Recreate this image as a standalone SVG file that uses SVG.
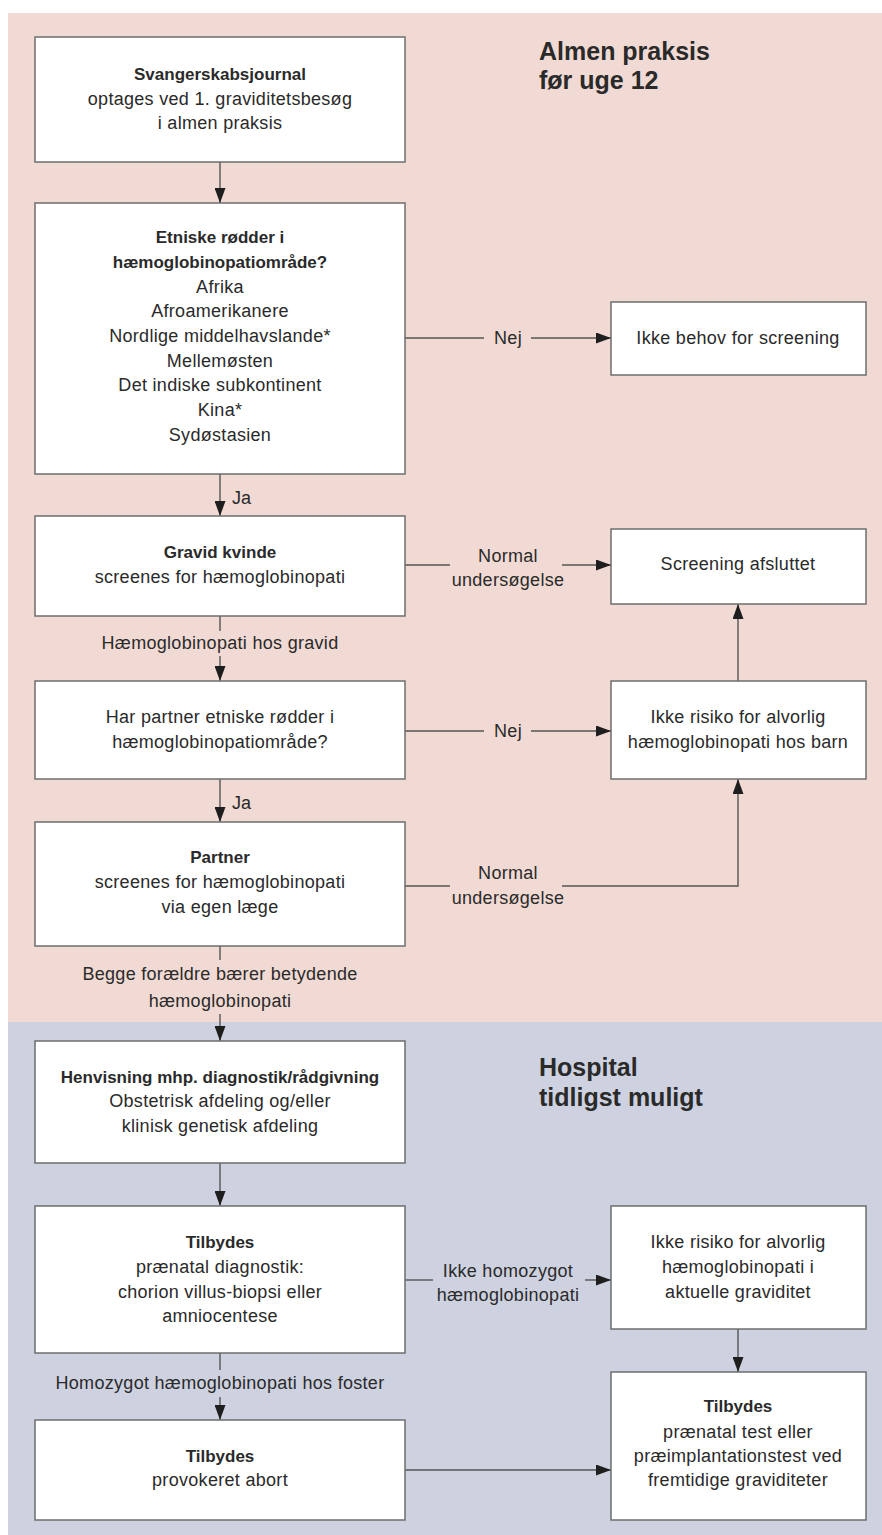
<svg xmlns="http://www.w3.org/2000/svg" width="882" height="1535" viewBox="0 0 882 1535">
<defs>
<marker id="ah" markerWidth="15" markerHeight="11" refX="15" refY="5.5" orient="auto" markerUnits="userSpaceOnUse">
<path d="M0,0 L15,5.5 L0,11 Z" fill="#1e1e1e"/>
</marker>
<style>
.box{fill:#ffffff;stroke:#6e6e6e;stroke-width:1.5}
.ln{fill:none;stroke:#555555;stroke-width:1.4}
.ar{fill:none;stroke:#555555;stroke-width:1.4;marker-end:url(#ah)}
text{font-family:"Liberation Sans",Arial,Helvetica,sans-serif;fill:#2a2a2a}
.t{font-size:18px;text-anchor:middle;letter-spacing:0.3px}
.b{font-size:17px;font-weight:bold;text-anchor:middle}
.lb{font-size:18px;text-anchor:middle;letter-spacing:0.3px}
.ls{font-size:18px;text-anchor:start}
.ti{font-size:25px;font-weight:bold}
</style>
</defs>
<rect x="8" y="13" width="874" height="1009" fill="#f1dad4"/>
<rect x="8" y="1022" width="874" height="513" fill="#ced2e0"/>
<text class="ti" x="539" y="60">Almen praksis</text>
<text class="ti" x="539" y="89">før uge 12</text>
<text class="ti" x="539" y="1076">Hospital</text>
<text class="ti" x="539" y="1106">tidligst muligt</text>
<g id="connectors">
<line class="ar" x1="220" y1="162" x2="220" y2="203"/>
<line class="ln" x1="405" y1="338" x2="484" y2="338"/>
<line class="ar" x1="531" y1="338" x2="611" y2="338"/>
<text class="lb" x="508" y="344">Nej</text>
<line class="ar" x1="220" y1="474" x2="220" y2="516"/>
<text class="ls" x="232" y="504">Ja</text>
<line class="ln" x1="405" y1="565" x2="450" y2="565"/>
<line class="ar" x1="562" y1="565" x2="611" y2="565"/>
<text class="lb" x="508" y="562">Normal</text>
<text class="lb" x="508" y="586">undersøgelse</text>
<line class="ln" x1="220" y1="616" x2="220" y2="631"/>
<text class="lb" x="220" y="649">Hæmoglobinopati hos gravid</text>
<line class="ar" x1="220" y1="656" x2="220" y2="681"/>
<line class="ln" x1="405" y1="731" x2="484" y2="731"/>
<line class="ar" x1="531" y1="731" x2="611" y2="731"/>
<text class="lb" x="508" y="737">Nej</text>
<line class="ar" x1="738" y1="681" x2="738" y2="604"/>
<line class="ar" x1="220" y1="779" x2="220" y2="822"/>
<text class="ls" x="232" y="809">Ja</text>
<line class="ln" x1="405" y1="886" x2="450" y2="886"/>
<polyline class="ar" points="562,886 738,886 738,779"/>
<text class="lb" x="508" y="879">Normal</text>
<text class="lb" x="508" y="904">undersøgelse</text>
<line class="ln" x1="220" y1="946" x2="220" y2="960"/>
<text class="lb" x="220" y="980">Begge forældre bærer betydende</text>
<text class="lb" x="220" y="1007">hæmoglobinopati</text>
<line class="ar" x1="220" y1="1014" x2="220" y2="1041"/>
<line class="ar" x1="220" y1="1163" x2="220" y2="1206"/>
<line class="ln" x1="405" y1="1280" x2="433" y2="1280"/>
<line class="ar" x1="585" y1="1280" x2="611" y2="1280"/>
<text class="lb" x="508" y="1277">Ikke homozygot</text>
<text class="lb" x="508" y="1301">hæmoglobinopati</text>
<line class="ar" x1="738" y1="1329" x2="738" y2="1372"/>
<line class="ln" x1="220" y1="1353" x2="220" y2="1370"/>
<text class="lb" x="220" y="1389">Homozygot hæmoglobinopati hos foster</text>
<line class="ar" x1="220" y1="1397" x2="220" y2="1420"/>
<line class="ar" x1="405" y1="1470" x2="611" y2="1470"/>
</g>
<g id="n1">
<rect class="box" x="35" y="37" width="370" height="125"/>
<text class="b" x="220" y="80">Svangerskabsjournal</text>
<text class="t" x="220" y="105">optages ved 1. graviditetsbesøg</text>
<text class="t" x="220" y="129">i almen praksis</text>
</g>
<g id="n2">
<rect class="box" x="35" y="203" width="370" height="271"/>
<text class="b" x="220" y="243">Etniske rødder i</text>
<text class="b" x="220" y="268">hæmoglobinopatiområde?</text>
<text class="t" x="220" y="293">Afrika</text>
<text class="t" x="220" y="317">Afroamerikanere</text>
<text class="t" x="220" y="342">Nordlige middelhavslande*</text>
<text class="t" x="220" y="367">Mellemøsten</text>
<text class="t" x="220" y="391">Det indiske subkontinent</text>
<text class="t" x="220" y="416">Kina*</text>
<text class="t" x="220" y="441">Sydøstasien</text>
</g>
<g id="n3">
<rect class="box" x="611" y="302" width="255" height="73"/>
<text class="t" x="738" y="344">Ikke behov for screening</text>
</g>
<g id="n4">
<rect class="box" x="35" y="516" width="370" height="100"/>
<text class="b" x="220" y="558">Gravid kvinde</text>
<text class="t" x="220" y="583">screenes for hæmoglobinopati</text>
</g>
<g id="n5">
<rect class="box" x="611" y="529" width="255" height="75"/>
<text class="t" x="738" y="570">Screening afsluttet</text>
</g>
<g id="n6">
<rect class="box" x="35" y="681" width="370" height="98"/>
<text class="t" x="220" y="723">Har partner etniske rødder i</text>
<text class="t" x="220" y="748">hæmoglobinopatiområde?</text>
</g>
<g id="n7">
<rect class="box" x="611" y="681" width="255" height="98"/>
<text class="t" x="738" y="723">Ikke risiko for alvorlig</text>
<text class="t" x="738" y="748">hæmoglobinopati hos barn</text>
</g>
<g id="n8">
<rect class="box" x="35" y="822" width="370" height="124"/>
<text class="b" x="220" y="863">Partner</text>
<text class="t" x="220" y="888">screenes for hæmoglobinopati</text>
<text class="t" x="220" y="913">via egen læge</text>
</g>
<g id="n9">
<rect class="box" x="35" y="1041" width="370" height="122"/>
<text class="b" x="220" y="1083">Henvisning mhp. diagnostik/rådgivning</text>
<text class="t" x="220" y="1107">Obstetrisk afdeling og/eller</text>
<text class="t" x="220" y="1132">klinisk genetisk afdeling</text>
</g>
<g id="n10">
<rect class="box" x="35" y="1206" width="370" height="147"/>
<text class="b" x="220" y="1248">Tilbydes</text>
<text class="t" x="220" y="1273">prænatal diagnostik:</text>
<text class="t" x="220" y="1298">chorion villus-biopsi eller</text>
<text class="t" x="220" y="1322">amniocentese</text>
</g>
<g id="n11">
<rect class="box" x="611" y="1206" width="255" height="123"/>
<text class="t" x="738" y="1248">Ikke risiko for alvorlig</text>
<text class="t" x="738" y="1273">hæmoglobinopati i</text>
<text class="t" x="738" y="1298">aktuelle graviditet</text>
</g>
<g id="n12">
<rect class="box" x="611" y="1372" width="255" height="148"/>
<text class="b" x="738" y="1412">Tilbydes</text>
<text class="t" x="738" y="1438">prænatal test eller</text>
<text class="t" x="738" y="1462">præimplantationstest ved</text>
<text class="t" x="738" y="1486">fremtidige graviditeter</text>
</g>
<g id="n13">
<rect class="box" x="35" y="1420" width="370" height="100"/>
<text class="b" x="220" y="1462">Tilbydes</text>
<text class="t" x="220" y="1486">provokeret abort</text>
</g>
</svg>
